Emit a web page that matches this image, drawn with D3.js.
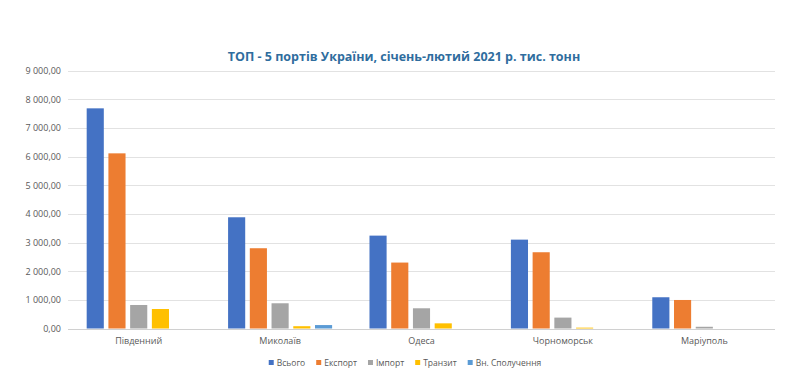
<!DOCTYPE html>
<html>
<head>
<meta charset="utf-8">
<script src="https://cdn.jsdelivr.net/npm/d3@7"></script>
<style>
  body { margin: 0; background: #fff; }
  svg { display: block; font-family: "Open Sans", "Liberation Sans", sans-serif; }
</style>
</head>
<body>
<script>
// Chart data
const ports = ["Південний", "Миколаїв", "Одеса", "Чорноморськ", "Маріуполь"];
const seriesNames = ["Всього", "Експорт", "Імпорт", "Транзит", "Вн. Сполучення"];
const totalVals   = [7680, 3880, 3240, 3100, 1090];
const exportVals  = [6110, 2800, 2300, 2660, 995];
const importVals  = [820, 880, 705, 380, 60];
const transitVals = [680, 80, 180, 30, 0];
const domesticVals = [0, 120, 0, 0, 0];
const yTicks = [0, 1000, 2000, 3000, 4000, 5000, 6000, 7000, 8000, 9000];
const colours = ["#4472C4", "#ED7D31", "#A5A5A5", "#FFC000", "#5B9BD5"];

const seriesVals = [totalVals, exportVals, importVals, transitVals, domesticVals];

// SVG dimensions
const width = 800, height = 376;
const plotLeft = 68, plotRight = 775, plotTop = 70.5, plotBottom = 328.5;

const svg = d3.select("body").append("svg")
    .attr("width", width)
    .attr("height", height);

// Scales
const x0 = d3.scaleBand().domain(ports).range([plotLeft, plotRight]).padding(0);
const x1 = d3.scaleBand().domain(seriesNames)
    .range([0, x0.bandwidth()])
    .paddingInner(0.212)
    .paddingOuter(0.86);
const y = d3.scaleLinear().domain([0, 9000]).range([plotBottom, plotTop]);

// Number format like "9 000,00"
const fmt = d3.formatLocale({ decimal: ",", thousands: "\u00a0", grouping: [3], currency: ["", ""] }).format(",.2f");

// Title
svg.append("text")
    .attr("x", 404)
    .attr("y", 61)
    .attr("text-anchor", "middle")
    .attr("font-size", 12.5)
    .attr("font-weight", "bold")
    .attr("fill", "#2F6D9E")
    .text("ТОП - 5 портів України,  січень-лютий 2021 р. тис. тонн");

// Grid lines
svg.append("g")
    .selectAll("line")
    .data(yTicks)
    .join("line")
    .attr("x1", plotLeft)
    .attr("x2", plotRight)
    .attr("y1", d => Math.round(y(d)) + 0.5)
    .attr("y2", d => Math.round(y(d)) + 0.5)
    .attr("stroke", d => d === 0 ? "#d0d0d0" : "#e2e2e2")
    .attr("stroke-width", 1);

// Y axis labels
svg.append("g")
    .selectAll("text")
    .data(yTicks)
    .join("text")
    .attr("x", 61)
    .attr("y", d => y(d) + 3.5)
    .attr("text-anchor", "end")
    .attr("font-size", 9)
    .attr("fill", "#595959")
    .text(d => fmt(d));

// Bars
const groups = svg.append("g")
    .selectAll("g")
    .data(ports)
    .join("g")
    .attr("transform", d => `translate(${x0(d)},0)`);

groups.selectAll("rect")
    .data((d, i) => seriesNames.map((s, j) => ({ s: s, v: seriesVals[j][i], c: colours[j] })))
    .join("rect")
    .attr("x", d => x1(d.s))
    .attr("width", x1.bandwidth())
    .attr("y", d => y(d.v))
    .attr("height", d => y(0) - y(d.v))
    .attr("fill", d => d.c);

// Category labels
svg.append("g")
    .selectAll("text")
    .data(ports)
    .join("text")
    .attr("x", d => x0(d) + x0.bandwidth() / 2)
    .attr("y", 344)
    .attr("text-anchor", "middle")
    .attr("font-size", 9)
    .attr("fill", "#595959")
    .text(d => d);

// Legend: lay items out from measured text widths, centred
const legendG = svg.append("g").attr("transform", "translate(0,366)");
const legend = legendG.selectAll("g")
    .data(seriesNames)
    .join("g");

legend.append("rect")
    .attr("x", 0)
    .attr("y", -6)
    .attr("width", 5)
    .attr("height", 5)
    .attr("fill", (d, i) => colours[i]);

legend.append("text")
    .attr("x", 8)
    .attr("y", 0)
    .attr("font-size", 8.5)
    .attr("fill", "#595959")
    .text(d => d);

let cursor = 0;
legend.each(function () {
    const w = d3.select(this).select("text").node().getComputedTextLength();
    d3.select(this).attr("transform", `translate(${cursor},0)`);
    cursor += 8 + w + 11;
});
const legendWidth = cursor - 11;
legendG.attr("transform", `translate(${405 - legendWidth / 2},366)`);
</script>
</body>
</html>
